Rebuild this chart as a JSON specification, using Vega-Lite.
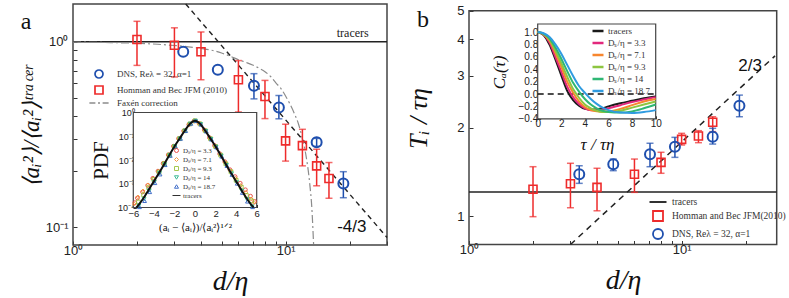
{
"$schema":"https://vega.github.io/schema/vega-lite/v6.json",
"width":789,"height":298,"autosize":{"type":"none"},"padding":0,"background":"white",
"config":{"view":{"stroke":null},
 "axis":{"grid":false,"domain":false,"tickColor":"#333","labelColor":"#222","labelFont":"Liberation Sans","titleFont":"Liberation Serif","titleFontWeight":"normal","titleColor":"#111","labelFlush":false,"labelOverlap":false,"titleAlign":"center","titleBaseline":"middle"},
 "legend":{"labelFont":"Liberation Serif","labelColor":"#333","title":null,"padding":0}},
"resolve":{"scale":{"x":"independent","y":"independent","color":"independent","shape":"independent","stroke":"independent","fill":"independent"},"axis":{"x":"independent","y":"independent"},"legend":{"color":"independent","shape":"independent","stroke":"independent","fill":"independent"}},
"layer":[
{
 "data":{"values":[
  {"k":"D","x":3.3,"y":0.883},
  {"k":"D","x":4.8,"y":0.707},
  {"k":"D","x":7.1,"y":0.579,"lo":0.492,"hi":0.673},
  {"k":"D","x":9.3,"y":0.442,"lo":0.384,"hi":0.513},
  {"k":"D","x":14,"y":0.287,"lo":0.273,"hi":0.301},
  {"k":"D","x":18.7,"y":0.172,"lo":0.144,"hi":0.199},
  {"k":"H","x":2,"y":1.03,"lo":0.746,"hi":1.29},
  {"k":"H","x":3,"y":0.958,"lo":0.646,"hi":1.19},
  {"k":"H","x":4,"y":0.883,"lo":0.624,"hi":1.13},
  {"k":"H","x":6,"y":0.624,"lo":0.418,"hi":0.792},
  {"k":"H","x":8,"y":0.507,"lo":0.385,"hi":0.619},
  {"k":"H","x":10,"y":0.292,"lo":0.227,"hi":0.359},
  {"k":"H","x":12,"y":0.275,"lo":0.214,"hi":0.337},
  {"k":"H","x":14,"y":0.214,"lo":0.167,"hi":0.263},
  {"k":"H","x":16,"y":0.183,"lo":0.143,"hi":0.223}
 ]},
 "layer":[
  {"data":{"values":[{}]},"mark":{"type":"rect","fill":"transparent","stroke":"#444","strokeWidth":1.5},"encoding":{"x":{"datum":1},"x2":{"datum":30},"y":{"datum":0.08},"y2":{"datum":1.6}}},
  {"data":{"values":[{}]},"mark":{"type":"rule","color":"#222","strokeWidth":1.6},"encoding":{"x":{"datum":1},"x2":{"datum":30},"y":{"datum":1}}},
  {"data":{"values":[{"x":3.39,"y":1.6},{"x":30,"y":0.0879}]},"mark":{"type":"line","color":"#222","strokeDash":[5,4],"strokeWidth":1.4},
   "encoding":{
    "x":{"field":"x","type":"quantitative","scale":{"type":"log","domain":[1,30],"range":[73,387],"nice":false},
     "axis":{"orient":"bottom","offset":-53,"values":[1,2,3,4,5,6,7,8,9,10,20,30],"labelExpr":"datum.value==1?'10⁰':datum.value==10?'10¹':''","tickSize":-4,"labelPadding":3,"labelFontSize":13,"title":"d/η","titleFontSize":28,"titleFontStyle":"italic","titleX":230,"titleY":36}},
    "y":{"field":"y","type":"quantitative","scale":{"type":"log","domain":[0.08,1.6],"range":[245,4],"nice":false},
     "axis":{"orient":"left","offset":-73,"values":[0.1,0.2,0.3,0.4,0.5,0.6,0.7,0.8,0.9,1],"labelExpr":"datum.value==1?'10⁰':datum.value==0.1?'10⁻¹':''","tickSize":-4,"labelPadding":9,"labelFontSize":13,"title":"⟨aᵢ²⟩/⟨aᵢ²⟩ᵗʳᵃᶜᵉʳ","titleFontSize":23,"titleFontStyle":"italic","titleX":-42,"titleY":126,"titleAngle":-90}}}},
  {"data":{"values":[{"x":1,"y":0.997},{"x":1.5,"y":0.99},{"x":2,"y":0.982},{"x":2.5,"y":0.97},{"x":3,"y":0.955},{"x":3.5,"y":0.94},{"x":4,"y":0.92},{"x":4.5,"y":0.9},{"x":5,"y":0.87},{"x":5.5,"y":0.835},{"x":6,"y":0.8},{"x":6.5,"y":0.775},{"x":7,"y":0.75},{"x":7.5,"y":0.72},{"x":8,"y":0.69},{"x":8.5,"y":0.65},{"x":9,"y":0.6},{"x":9.5,"y":0.56},{"x":10,"y":0.51},{"x":10.5,"y":0.46},{"x":11,"y":0.41},{"x":11.5,"y":0.36},{"x":12,"y":0.3},{"x":12.5,"y":0.24},{"x":13,"y":0.17},{"x":13.3,"y":0.125},{"x":13.55,"y":0.08}]},"mark":{"type":"line","color":"#8c8c8c","strokeDash":[8,3,2,3],"strokeWidth":1.2,"interpolate":"monotone"},"encoding":{"x":{"field":"x","type":"quantitative"},"y":{"field":"y","type":"quantitative"}}},
  {"transform":[{"filter":"isValid(datum.lo)"}],"mark":{"type":"rule","strokeWidth":1.5},"encoding":{"x":{"field":"x","type":"quantitative"},"y":{"field":"lo","type":"quantitative"},"y2":{"field":"hi"},"stroke":{"field":"k","type":"nominal","scale":{"domain":["D","H"],"range":["#1f4fae","#ee2b2b"]},"legend":null}}},
  {"transform":[{"filter":"isValid(datum.lo)"}],"mark":{"type":"tick","orient":"horizontal","size":7,"thickness":1.5},"encoding":{"x":{"field":"x","type":"quantitative"},"y":{"field":"lo","type":"quantitative"},"fill":{"field":"k","type":"nominal","scale":{"domain":["D","H"],"range":["#1f4fae","#ee2b2b"]},"legend":null}}},
  {"transform":[{"filter":"isValid(datum.lo)"}],"mark":{"type":"tick","orient":"horizontal","size":7,"thickness":1.5},"encoding":{"x":{"field":"x","type":"quantitative"},"y":{"field":"hi","type":"quantitative"},"fill":{"field":"k","type":"nominal","scale":{"domain":["D","H"],"range":["#1f4fae","#ee2b2b"]},"legend":null}}},
  {"transform":[{"filter":"datum.k=='D'"}],"mark":{"type":"point","filled":false,"size":100,"strokeWidth":2,"opacity":1},
   "encoding":{"x":{"field":"x","type":"quantitative"},"y":{"field":"y","type":"quantitative"},
    "color":{"field":"k","type":"nominal","scale":{"domain":["D","H","F"],"range":["#1f4fae","#ee2b2b","#8c8c8c"]},
     "legend":{"orient":"none","legendX":94,"legendY":69,"labelExpr":"datum.label=='D'?'DNS,  Reλ = 32,  α=1':datum.label=='H'?'Homman and Bec  JFM (2010)':'Faxén correction'","labelFontSize":9,"symbolSize":64,"symbolStrokeWidth":1.7,"rowPadding":0,"labelOffset":13}},
    "shape":{"field":"k","type":"nominal","scale":{"domain":["D","H","F"],"range":["circle","square","M-2.4,0H-0.9M-0.25,0H0.25M0.9,0H2.4"]},
     "legend":{"orient":"none","legendX":94,"legendY":69,"labelExpr":"datum.label=='D'?'DNS,  Reλ = 32,  α=1':datum.label=='H'?'Homman and Bec  JFM (2010)':'Faxén correction'","labelFontSize":9,"symbolSize":64,"symbolStrokeWidth":1.7,"rowPadding":0,"labelOffset":13}}}},
  {"transform":[{"filter":"datum.k=='H'"}],"mark":{"type":"point","filled":false,"size":64,"strokeWidth":1.6,"opacity":1},
   "encoding":{"x":{"field":"x","type":"quantitative"},"y":{"field":"y","type":"quantitative"},
    "color":{"field":"k","type":"nominal","scale":{"domain":["D","H","F"],"range":["#1f4fae","#ee2b2b","#8c8c8c"]},
     "legend":{"orient":"none","legendX":94,"legendY":69,"labelExpr":"datum.label=='D'?'DNS,  Reλ = 32,  α=1':datum.label=='H'?'Homman and Bec  JFM (2010)':'Faxén correction'","labelFontSize":9,"symbolSize":64,"symbolStrokeWidth":1.7,"rowPadding":0,"labelOffset":13}},
    "shape":{"field":"k","type":"nominal","scale":{"domain":["D","H","F"],"range":["circle","square","M-2.4,0H-0.9M-0.25,0H0.25M0.9,0H2.4"]},
     "legend":{"orient":"none","legendX":94,"legendY":69,"labelExpr":"datum.label=='D'?'DNS,  Reλ = 32,  α=1':datum.label=='H'?'Homman and Bec  JFM (2010)':'Faxén correction'","labelFontSize":9,"symbolSize":64,"symbolStrokeWidth":1.7,"rowPadding":0,"labelOffset":13}}}},
  {"data":{"values":[{}]},"mark":{"type":"text","text":"tracers","font":"Liberation Serif","fontSize":12,"align":"center","baseline":"middle","color":"#222"},"encoding":{"x":{"datum":20.7},"y":{"datum":1.116}}},
  {"data":{"values":[{}]},"mark":{"type":"text","text":"-4/3","font":"Liberation Sans","fontSize":17,"align":"center","baseline":"middle","color":"#111"},"encoding":{"x":{"datum":20.5},"y":{"datum":0.1}}},
  {"data":{"values":[{}]},"mark":{"type":"text","text":"a","font":"Liberation Serif","fontSize":24,"align":"center","baseline":"middle","color":"#111"},"encoding":{"x":{"datum":0.601},"y":{"datum":1.28}}}
 ]
},
{
 "data":{"values":[
  {"s":"3.3","x":-5.85,"y":0.00016},{"s":"3.3","x":-5.6,"y":0.00025},{"s":"3.3","x":-5.1,"y":0.00045},{"s":"3.3","x":-4.6,"y":0.00085},{"s":"3.3","x":-4.1,"y":0.0017},{"s":"3.3","x":-3.6,"y":0.0034},{"s":"3.3","x":-3.1,"y":0.0072},{"s":"3.3","x":-2.6,"y":0.0165},{"s":"3.3","x":-2.1,"y":0.038},{"s":"3.3","x":-1.6,"y":0.08},{"s":"3.3","x":-1.1,"y":0.168},{"s":"3.3","x":-0.6,"y":0.31},{"s":"3.3","x":-0.1,"y":0.44},{"s":"3.3","x":0.4,"y":0.35},{"s":"3.3","x":0.9,"y":0.185},{"s":"3.3","x":1.4,"y":0.088},{"s":"3.3","x":1.9,"y":0.041},{"s":"3.3","x":2.4,"y":0.0185},{"s":"3.3","x":2.9,"y":0.0085},{"s":"3.3","x":3.4,"y":0.0039},{"s":"3.3","x":3.9,"y":0.002},{"s":"3.3","x":4.4,"y":0.00105},{"s":"3.3","x":4.9,"y":0.00056},{"s":"3.3","x":5.4,"y":0.0003},{"s":"3.3","x":5.8,"y":0.00018},
  {"s":"7.1","x":-5.9,"y":0.00014},{"s":"7.1","x":-5.55,"y":0.00028},{"s":"7.1","x":-5.05,"y":0.0005},{"s":"7.1","x":-4.55,"y":0.0009},{"s":"7.1","x":-4.05,"y":0.0016},{"s":"7.1","x":-3.55,"y":0.0033},{"s":"7.1","x":-3.05,"y":0.0072},{"s":"7.1","x":-2.55,"y":0.0168},{"s":"7.1","x":-2.05,"y":0.037},{"s":"7.1","x":-1.55,"y":0.079},{"s":"7.1","x":-1.05,"y":0.17},{"s":"7.1","x":-0.55,"y":0.322},{"s":"7.1","x":-0.05,"y":0.45},{"s":"7.1","x":0.45,"y":0.34},{"s":"7.1","x":0.95,"y":0.175},{"s":"7.1","x":1.45,"y":0.083},{"s":"7.1","x":1.95,"y":0.038},{"s":"7.1","x":2.45,"y":0.017},{"s":"7.1","x":2.95,"y":0.0077},{"s":"7.1","x":3.45,"y":0.0035},{"s":"7.1","x":3.95,"y":0.0017},{"s":"7.1","x":4.45,"y":0.00085},{"s":"7.1","x":4.95,"y":0.00044},{"s":"7.1","x":5.45,"y":0.00023},{"s":"7.1","x":5.75,"y":0.00016},
  {"s":"9.3","x":-5.5,"y":0.00017},{"s":"9.3","x":-5,"y":0.00034},{"s":"9.3","x":-4.5,"y":0.00068},{"s":"9.3","x":-4,"y":0.0015},{"s":"9.3","x":-3.5,"y":0.0031},{"s":"9.3","x":-3,"y":0.007},{"s":"9.3","x":-2.5,"y":0.016},{"s":"9.3","x":-2,"y":0.0372},{"s":"9.3","x":-1.5,"y":0.079},{"s":"9.3","x":-1,"y":0.17},{"s":"9.3","x":-0.5,"y":0.33},{"s":"9.3","x":0,"y":0.446},{"s":"9.3","x":0.5,"y":0.331},{"s":"9.3","x":1,"y":0.171},{"s":"9.3","x":1.5,"y":0.079},{"s":"9.3","x":2,"y":0.037},{"s":"9.3","x":2.5,"y":0.016},{"s":"9.3","x":3,"y":0.0069},{"s":"9.3","x":3.5,"y":0.0032},{"s":"9.3","x":4,"y":0.0014},{"s":"9.3","x":4.5,"y":0.00072},{"s":"9.3","x":5,"y":0.00032},{"s":"9.3","x":5.5,"y":0.00019},
  {"s":"14","x":-5.45,"y":0.00012},{"s":"14","x":-4.95,"y":0.00023},{"s":"14","x":-4.45,"y":0.00052},{"s":"14","x":-3.95,"y":0.0012},{"s":"14","x":-3.45,"y":0.0028},{"s":"14","x":-2.95,"y":0.0065},{"s":"14","x":-2.45,"y":0.0157},{"s":"14","x":-1.95,"y":0.037},{"s":"14","x":-1.45,"y":0.079},{"s":"14","x":-0.95,"y":0.17},{"s":"14","x":-0.45,"y":0.335},{"s":"14","x":0.05,"y":0.445},{"s":"14","x":0.55,"y":0.32},{"s":"14","x":1.05,"y":0.165},{"s":"14","x":1.55,"y":0.076},{"s":"14","x":2.05,"y":0.0355},{"s":"14","x":2.55,"y":0.015},{"s":"14","x":3.05,"y":0.0061},{"s":"14","x":3.55,"y":0.0027},{"s":"14","x":4.05,"y":0.00115},{"s":"14","x":4.55,"y":0.0005},{"s":"14","x":5.05,"y":0.00022},{"s":"14","x":5.55,"y":0.00011},
  {"s":"18.7","x":-5.4,"y":0.000105},{"s":"18.7","x":-4.9,"y":0.00019},{"s":"18.7","x":-4.4,"y":0.00045},{"s":"18.7","x":-3.9,"y":0.00108},{"s":"18.7","x":-3.4,"y":0.0025},{"s":"18.7","x":-2.9,"y":0.0062},{"s":"18.7","x":-2.4,"y":0.0152},{"s":"18.7","x":-1.9,"y":0.0368},{"s":"18.7","x":-1.4,"y":0.079},{"s":"18.7","x":-0.9,"y":0.169},{"s":"18.7","x":-0.4,"y":0.34},{"s":"18.7","x":0.1,"y":0.445},{"s":"18.7","x":0.6,"y":0.31},{"s":"18.7","x":1.1,"y":0.16},{"s":"18.7","x":1.6,"y":0.073},{"s":"18.7","x":2.1,"y":0.034},{"s":"18.7","x":2.6,"y":0.014},{"s":"18.7","x":3.1,"y":0.0057},{"s":"18.7","x":3.6,"y":0.0024},{"s":"18.7","x":4.1,"y":0.00102},{"s":"18.7","x":4.6,"y":0.00042},{"s":"18.7","x":5.1,"y":0.00018},{"s":"18.7","x":5.6,"y":0.000105}
 ]},
 "layer":[
  {"data":{"values":[{}]},"mark":{"type":"rect","fill":"white","stroke":"#444","strokeWidth":1.2},"encoding":{"x":{"datum":-6},"x2":{"datum":6},"y":{"datum":0.0001},"y2":{"datum":1}}},
  {"mark":{"type":"point","filled":false,"size":14,"strokeWidth":1,"opacity":0.9},
   "encoding":{
    "x":{"field":"x","type":"quantitative","scale":{"domain":[-6,6],"range":[133.3,256.7],"nice":false,"zero":false},
     "axis":{"orient":"bottom","offset":-90.5,"values":[-6,-4,-2,0,2,4,6],"format":"d","tickSize":-3,"labelPadding":4,"labelFontSize":9.5,"title":"(aᵢ − ⟨aᵢ⟩)/⟨aᵢ²⟩¹ᐟ²","titleFontSize":11,"titleX":195,"titleY":20}},
    "y":{"field":"y","type":"quantitative","scale":{"type":"log","domain":[0.0001,1],"range":[207.5,112.5],"nice":false},
     "axis":{"orient":"left","offset":-133.3,"values":[0.0001,0.001,0.01,0.1,1],"labelExpr":"datum.value>0.5?'10⁰':datum.value>0.05?'10⁻¹':datum.value>0.005?'10⁻²':datum.value>0.0005?'10⁻³':'10⁻⁴'","tickSize":-3,"labelPadding":2,"labelFontSize":9,"title":"PDF","titleFontSize":21,"titleX":-32,"titleY":160,"titleAngle":-90}},
    "color":{"field":"s","type":"nominal","scale":{"domain":["3.3","7.1","9.3","14","18.7","tracers"],"range":["#e8403a","#f2912e","#9cc43c","#28b48c","#2d5fc4","#1a1a1a"]},
     "legend":{"orient":"none","legendX":173,"legendY":147,"labelExpr":"datum.label=='tracers'?'tracers':'Dₛ/η = '+datum.label","labelFontSize":7,"symbolSize":16,"symbolStrokeWidth":1,"rowPadding":0,"labelOffset":3}},
    "shape":{"field":"s","type":"nominal","scale":{"domain":["3.3","7.1","9.3","14","18.7","tracers"],"range":["circle","diamond","square","triangle-down","triangle-up","M-2,0H2"]},
     "legend":{"orient":"none","legendX":173,"legendY":147,"labelExpr":"datum.label=='tracers'?'tracers':'Dₛ/η = '+datum.label","labelFontSize":7,"symbolSize":16,"symbolStrokeWidth":1,"rowPadding":0,"labelOffset":3}}}},
  {"data":{"values":[{"x":-5.7,"y":0.0001},{"x":-5.5,"y":0.000126},{"x":-5,"y":0.000251},{"x":-4.5,"y":0.000562},{"x":-4,"y":0.00126},{"x":-3.5,"y":0.00282},{"x":-3,"y":0.00661},{"x":-2.5,"y":0.0158},{"x":-2,"y":0.0372},{"x":-1.5,"y":0.0794},{"x":-1,"y":0.17},{"x":-0.5,"y":0.331},{"x":0,"y":0.447},{"x":0.5,"y":0.331},{"x":1,"y":0.17},{"x":1.5,"y":0.0794},{"x":2,"y":0.0372},{"x":2.5,"y":0.0158},{"x":3,"y":0.00661},{"x":3.5,"y":0.00282},{"x":4,"y":0.00126},{"x":4.5,"y":0.000562},{"x":5,"y":0.000251},{"x":5.5,"y":0.000126},{"x":5.7,"y":0.0001}]},"mark":{"type":"line","color":"#111","strokeWidth":2,"interpolate":"monotone"},"encoding":{"x":{"field":"x","type":"quantitative"},"y":{"field":"y","type":"quantitative"}}}
 ]
},
{
 "data":{"values":[
  {"k":"H","x":2,"y":1.233,"lo":0.995,"hi":1.472},
  {"k":"H","x":3,"y":1.288,"lo":1.067,"hi":1.512},
  {"k":"H","x":4,"y":1.252,"lo":1.042,"hi":1.454},
  {"k":"H","x":6,"y":1.387,"lo":1.204,"hi":1.563},
  {"k":"H","x":8,"y":1.523,"lo":1.398,"hi":1.648},
  {"k":"H","x":10,"y":1.824,"lo":1.745,"hi":1.912},
  {"k":"H","x":12,"y":1.873,"lo":1.777,"hi":1.952},
  {"k":"H","x":14,"y":2.085,"lo":1.937,"hi":2.178},
  {"k":"D","x":3.3,"y":1.387,"lo":1.292,"hi":1.483},
  {"k":"D","x":4.77,"y":1.5,"lo":1.427,"hi":1.563},
  {"k":"D","x":7.1,"y":1.622,"lo":1.472,"hi":1.769},
  {"k":"D","x":9.3,"y":1.722,"lo":1.584,"hi":1.853},
  {"k":"D","x":14,"y":1.862,"lo":1.758,"hi":1.989},
  {"k":"D","x":18.7,"y":2.375,"lo":2.178,"hi":2.58}
 ]},
 "layer":[
  {"data":{"values":[{}]},"mark":{"type":"rect","fill":"transparent","stroke":"#444","strokeWidth":1.5},"encoding":{"x":{"datum":1},"x2":{"datum":28},"y":{"datum":0.8},"y2":{"datum":5}}},
  {"data":{"values":[{}]},"mark":{"type":"rule","color":"#222","strokeWidth":1.6},"encoding":{"x":{"datum":1},"x2":{"datum":28},"y":{"datum":1.207}}},
  {"data":{"values":[{"x":3.0,"y":0.8},{"x":27.5,"y":3.51}]},"mark":{"type":"line","color":"#222","strokeDash":[6,5],"strokeWidth":1.5},
   "encoding":{
    "x":{"field":"x","type":"quantitative","scale":{"type":"log","domain":[1,28],"range":[469,776.7],"nice":false},
     "axis":{"orient":"bottom","offset":-53.5,"values":[1,2,3,4,5,6,7,8,9,10,20],"labelExpr":"datum.value==1?'10⁰':datum.value==10?'10¹':''","tickSize":-4,"labelPadding":3,"labelFontSize":13,"title":"d/η","titleFontSize":28,"titleFontStyle":"italic","titleX":623,"titleY":36}},
    "y":{"field":"y","type":"quantitative","scale":{"type":"log","domain":[0.8,5],"range":[244.5,10.7],"nice":false},
     "axis":{"orient":"left","offset":-469,"values":[1,2,3,4,5],"format":"d","tickSize":-4,"labelPadding":9,"labelFontSize":13,"title":"Tᵢ / τη","titleFontSize":26,"titleFontStyle":"italic","titleX":-51,"titleY":118,"titleAngle":-90}}}},
  {"mark":{"type":"rule","strokeWidth":1.5},"encoding":{"x":{"field":"x","type":"quantitative"},"y":{"field":"lo","type":"quantitative"},"y2":{"field":"hi"},"stroke":{"field":"k","type":"nominal","scale":{"domain":["H","D"],"range":["#ee2b2b","#1f4fae"]},"legend":null}}},
  {"mark":{"type":"tick","orient":"horizontal","size":7,"thickness":1.5},"encoding":{"x":{"field":"x","type":"quantitative"},"y":{"field":"lo","type":"quantitative"},"fill":{"field":"k","type":"nominal","scale":{"domain":["H","D"],"range":["#ee2b2b","#1f4fae"]},"legend":null}}},
  {"mark":{"type":"tick","orient":"horizontal","size":7,"thickness":1.5},"encoding":{"x":{"field":"x","type":"quantitative"},"y":{"field":"hi","type":"quantitative"},"fill":{"field":"k","type":"nominal","scale":{"domain":["H","D"],"range":["#ee2b2b","#1f4fae"]},"legend":null}}},
  {"transform":[{"filter":"datum.k=='H'"}],"mark":{"type":"point","filled":false,"size":64,"strokeWidth":1.6,"opacity":1},
   "encoding":{"x":{"field":"x","type":"quantitative"},"y":{"field":"y","type":"quantitative"},
    "color":{"field":"k","type":"nominal","scale":{"domain":["T","H","D"],"range":["#1a1a1a","#ee2b2b","#1f4fae"]},
     "legend":{"orient":"none","legendX":652,"legendY":196,"labelExpr":"datum.label=='T'?'tracers':datum.label=='H'?'Homman and Bec JFM(2010)':'DNS,  Reλ = 32,  α=1'","labelFontSize":9.5,"symbolSize":100,"symbolStrokeWidth":1.8,"rowPadding":0,"labelOffset":8}},
    "shape":{"field":"k","type":"nominal","scale":{"domain":["T","H","D"],"range":["M-1.7,0H1.7","square","circle"]},
     "legend":{"orient":"none","legendX":652,"legendY":196,"labelExpr":"datum.label=='T'?'tracers':datum.label=='H'?'Homman and Bec JFM(2010)':'DNS,  Reλ = 32,  α=1'","labelFontSize":9.5,"symbolSize":100,"symbolStrokeWidth":1.8,"rowPadding":0,"labelOffset":8}}}},
  {"transform":[{"filter":"datum.k=='D'"}],"mark":{"type":"point","filled":false,"size":100,"strokeWidth":2,"opacity":1},
   "encoding":{"x":{"field":"x","type":"quantitative"},"y":{"field":"y","type":"quantitative"},
    "color":{"field":"k","type":"nominal","scale":{"domain":["T","H","D"],"range":["#1a1a1a","#ee2b2b","#1f4fae"]},
     "legend":{"orient":"none","legendX":652,"legendY":196,"labelExpr":"datum.label=='T'?'tracers':datum.label=='H'?'Homman and Bec JFM(2010)':'DNS,  Reλ = 32,  α=1'","labelFontSize":9.5,"symbolSize":100,"symbolStrokeWidth":1.8,"rowPadding":0,"labelOffset":8}},
    "shape":{"field":"k","type":"nominal","scale":{"domain":["T","H","D"],"range":["M-1.7,0H1.7","square","circle"]},
     "legend":{"orient":"none","legendX":652,"legendY":196,"labelExpr":"datum.label=='T'?'tracers':datum.label=='H'?'Homman and Bec JFM(2010)':'DNS,  Reλ = 32,  α=1'","labelFontSize":9.5,"symbolSize":100,"symbolStrokeWidth":1.8,"rowPadding":0,"labelOffset":8}}}},
  {"data":{"values":[{}]},"mark":{"type":"text","text":"2/3","font":"Liberation Sans","fontSize":17,"align":"center","baseline":"middle","color":"#111"},"encoding":{"x":{"datum":21.0},"y":{"datum":3.24}}},
  {"data":{"values":[{}]},"mark":{"type":"text","text":"b","font":"Liberation Serif","fontSize":24,"align":"center","baseline":"middle","color":"#111"},"encoding":{"x":{"datum":0.608},"y":{"datum":4.65}}}
 ]
},
{
 "data":{"values":[
  {"s":"tracers","t":0,"c":1.0},{"s":"tracers","t":0.5,"c":0.95},{"s":"tracers","t":1,"c":0.8},{"s":"tracers","t":1.5,"c":0.56},{"s":"tracers","t":2,"c":0.3},{"s":"tracers","t":2.5,"c":0.05},{"s":"tracers","t":3,"c":-0.1},{"s":"tracers","t":3.5,"c":-0.19},{"s":"tracers","t":4,"c":-0.24},{"s":"tracers","t":4.5,"c":-0.25},{"s":"tracers","t":5,"c":-0.245},{"s":"tracers","t":5.5,"c":-0.23},{"s":"tracers","t":6,"c":-0.2},{"s":"tracers","t":7,"c":-0.15},{"s":"tracers","t":8,"c":-0.11},{"s":"tracers","t":9,"c":-0.07},{"s":"tracers","t":10,"c":-0.04},
  {"s":"3.3","t":0,"c":1.0},{"s":"3.3","t":0.5,"c":0.96},{"s":"3.3","t":1,"c":0.83},{"s":"3.3","t":1.5,"c":0.6},{"s":"3.3","t":2,"c":0.36},{"s":"3.3","t":2.5,"c":0.12},{"s":"3.3","t":3,"c":-0.05},{"s":"3.3","t":3.5,"c":-0.16},{"s":"3.3","t":4,"c":-0.23},{"s":"3.3","t":4.5,"c":-0.26},{"s":"3.3","t":5,"c":-0.26},{"s":"3.3","t":5.5,"c":-0.25},{"s":"3.3","t":6,"c":-0.23},{"s":"3.3","t":7,"c":-0.18},{"s":"3.3","t":8,"c":-0.13},{"s":"3.3","t":9,"c":-0.09},{"s":"3.3","t":10,"c":-0.05},
  {"s":"7.1","t":0,"c":1.0},{"s":"7.1","t":0.5,"c":0.96},{"s":"7.1","t":1,"c":0.86},{"s":"7.1","t":1.5,"c":0.66},{"s":"7.1","t":2,"c":0.44},{"s":"7.1","t":2.5,"c":0.2},{"s":"7.1","t":3,"c":0.02},{"s":"7.1","t":3.5,"c":-0.12},{"s":"7.1","t":4,"c":-0.21},{"s":"7.1","t":4.5,"c":-0.26},{"s":"7.1","t":5,"c":-0.28},{"s":"7.1","t":5.5,"c":-0.285},{"s":"7.1","t":6,"c":-0.28},{"s":"7.1","t":7,"c":-0.24},{"s":"7.1","t":8,"c":-0.18},{"s":"7.1","t":9,"c":-0.12},{"s":"7.1","t":10,"c":-0.08},
  {"s":"9.3","t":0,"c":1.0},{"s":"9.3","t":0.5,"c":0.97},{"s":"9.3","t":1,"c":0.88},{"s":"9.3","t":1.5,"c":0.7},{"s":"9.3","t":2,"c":0.5},{"s":"9.3","t":2.5,"c":0.28},{"s":"9.3","t":3,"c":0.08},{"s":"9.3","t":3.5,"c":-0.06},{"s":"9.3","t":4,"c":-0.17},{"s":"9.3","t":4.5,"c":-0.23},{"s":"9.3","t":5,"c":-0.27},{"s":"9.3","t":5.5,"c":-0.29},{"s":"9.3","t":6,"c":-0.29},{"s":"9.3","t":7,"c":-0.27},{"s":"9.3","t":8,"c":-0.22},{"s":"9.3","t":9,"c":-0.17},{"s":"9.3","t":10,"c":-0.12},
  {"s":"14","t":0,"c":1.0},{"s":"14","t":0.5,"c":0.97},{"s":"14","t":1,"c":0.9},{"s":"14","t":1.5,"c":0.75},{"s":"14","t":2,"c":0.57},{"s":"14","t":2.5,"c":0.37},{"s":"14","t":3,"c":0.18},{"s":"14","t":3.5,"c":0.04},{"s":"14","t":4,"c":-0.08},{"s":"14","t":4.5,"c":-0.17},{"s":"14","t":5,"c":-0.23},{"s":"14","t":5.5,"c":-0.27},{"s":"14","t":6,"c":-0.29},{"s":"14","t":7,"c":-0.3},{"s":"14","t":8,"c":-0.28},{"s":"14","t":9,"c":-0.23},{"s":"14","t":10,"c":-0.17},
  {"s":"18.7","t":0,"c":1.0},{"s":"18.7","t":0.5,"c":0.98},{"s":"18.7","t":1,"c":0.92},{"s":"18.7","t":1.5,"c":0.8},{"s":"18.7","t":2,"c":0.65},{"s":"18.7","t":2.5,"c":0.47},{"s":"18.7","t":3,"c":0.29},{"s":"18.7","t":3.5,"c":0.13},{"s":"18.7","t":4,"c":0.02},{"s":"18.7","t":4.5,"c":-0.08},{"s":"18.7","t":5,"c":-0.16},{"s":"18.7","t":5.5,"c":-0.22},{"s":"18.7","t":6,"c":-0.26},{"s":"18.7","t":7,"c":-0.3},{"s":"18.7","t":8,"c":-0.305},{"s":"18.7","t":9,"c":-0.29},{"s":"18.7","t":10,"c":-0.26}
 ]},
 "layer":[
  {"data":{"values":[{}]},"mark":{"type":"rect","fill":"white","stroke":"#444","strokeWidth":1.2},"encoding":{"x":{"datum":0},"x2":{"datum":10},"y":{"datum":-0.4},"y2":{"datum":1.13}}},
  {"data":{"values":[{}]},"mark":{"type":"rule","color":"#111","strokeDash":[6,4],"strokeWidth":1.6},"encoding":{"x":{"datum":0},"x2":{"datum":10},"y":{"datum":0}}},
  {"mark":{"type":"line","strokeWidth":2,"interpolate":"monotone"},
   "encoding":{
    "x":{"field":"t","type":"quantitative","scale":{"domain":[0,10],"range":[537.7,655.7],"nice":false,"zero":false},
     "axis":{"orient":"bottom","offset":-179.2,"values":[0,2,4,6,8,10],"format":"d","tickSize":-3,"labelPadding":3,"labelFontSize":10,"title":"τ / τη","titleFontSize":17,"titleFontStyle":"italic","titleX":597,"titleY":26}},
    "y":{"field":"c","type":"quantitative","scale":{"domain":[-0.4,1.13],"range":[118.8,24],"nice":false,"zero":false},
     "axis":{"orient":"left","offset":-537.7,"values":[-0.4,-0.2,0,0.2,0.4,0.6,0.8,1.0],"format":".1f","tickSize":-3,"labelPadding":3,"labelFontSize":10,"title":"Cₐ(τ)","titleFontSize":17,"titleFontStyle":"italic","titleX":-38,"titleY":72,"titleAngle":-90}},
    "color":{"field":"s","type":"nominal","scale":{"domain":["tracers","3.3","7.1","9.3","14","18.7"],"range":["#1a1a1a","#e2287c","#f7862e","#8dc540","#2fb774","#2f9be0"]},
     "legend":{"orient":"none","legendX":591,"legendY":24,"labelExpr":"datum.label=='tracers'?'tracers':'Dₛ/η = '+datum.label","labelFontSize":9,"symbolType":"stroke","symbolSize":121,"symbolStrokeWidth":2.5,"rowPadding":-0.7,"labelOffset":3}}}}
 ]
}
]
}
